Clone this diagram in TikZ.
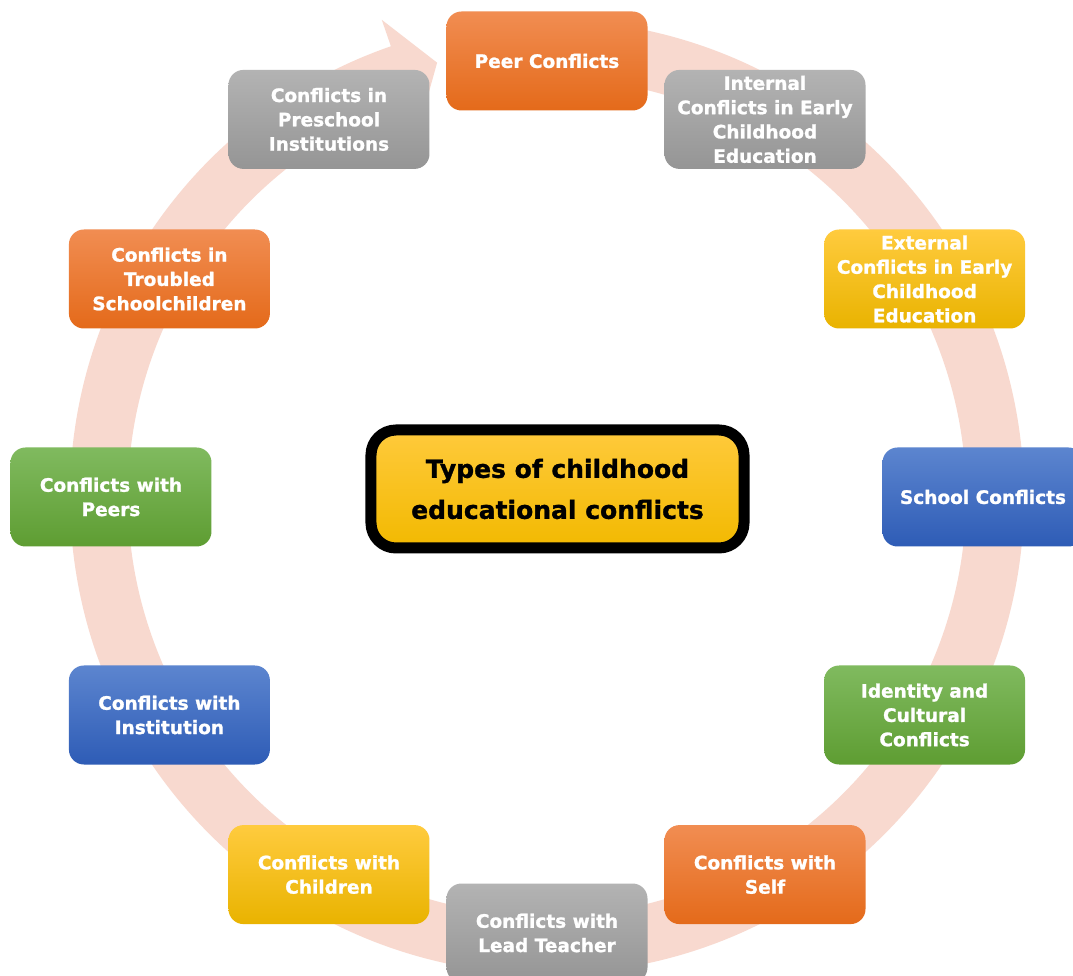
\documentclass[tikz,border=0pt]{standalone}
\usepackage{fontspec}
\setmainfont{DejaVu Sans}[BoldFeatures={FakeBold=1.2}]
\definecolor{ringc}{HTML}{F8D9CF}
\definecolor{oTop}{HTML}{F18D52}
\definecolor{oBot}{HTML}{E46A1A}
\definecolor{gTop}{HTML}{B3B3B3}
\definecolor{gBot}{HTML}{959595}
\definecolor{yTop}{HTML}{FFCB3E}
\definecolor{yBot}{HTML}{E9B300}
\definecolor{bTop}{HTML}{5C85CF}
\definecolor{bBot}{HTML}{2E5CB6}
\definecolor{grTop}{HTML}{80BA5F}
\definecolor{grBot}{HTML}{5E9D32}
\definecolor{cTop}{HTML}{FFCA3C}
\definecolor{cBot}{HTML}{F2B900}
\tikzset{
  cbox/.style={rounded corners=15pt, minimum width=201pt, minimum height=99pt,
    inner sep=0pt, align=center, text=white,
    font=\fontsize{18.5}{24.3}\selectfont\bfseries},
  orangeb/.style={top color=oTop, bottom color=oBot},
  grayb/.style={top color=gTop, bottom color=gBot},
  yellowb/.style={top color=yTop, bottom color=yBot},
  blueb/.style={top color=bTop, bottom color=bBot},
  greenb/.style={top color=grTop, bottom color=grBot},
  titlebox/.style={draw=black, line width=11pt, rounded corners=25pt,
    top color=cTop, bottom color=cBot, minimum width=373pt, minimum height=118pt,
    inner sep=0pt, align=center, text=black,
    font=\fontsize{25}{41}\selectfont\bfseries}
}
\begin{document}
\begin{tikzpicture}[x=1pt,y=1pt]
\useasboundingbox (-547,-479) rectangle (526,497);
\clip (-547,-479) rectangle (526,497);
\fill[white] (-547,-479) rectangle (526,497);
% circular arrow ring
\fill[ringc] (98:477) arc[start angle=98, end angle=-250.9, radius=477]
  -- (-250.9:505) -- (-255.8:448) -- (-250.9:391) -- (-250.9:419)
  arc[start angle=-250.9, end angle=98, radius=419] -- cycle;
% boxes
\node[cbox, orangeb] (peer) at (90:436) {Peer Conflicts};
\node[cbox, grayb] (internal) at (60:436) {Internal\\Conflicts in Early\\Childhood\\Education};
\node[cbox, yellowb] (external) at (30:436) {External\\Conflicts in Early\\Childhood\\Education};
\node[cbox, blueb] (school) at (0:436) {School Conflicts};
\node[cbox, greenb] (identity) at (-30:436) {Identity and\\Cultural\\Conflicts};
\node[cbox, orangeb] (self) at (-60:436) {Conflicts with\\Self};
\node[cbox, grayb] (lead) at (-90:436) {Conflicts with\\Lead Teacher};
\node[cbox, yellowb] (children) at (-120:436) {Conflicts with\\Children};
\node[cbox, blueb] (institution) at (-150:436) {Conflicts with\\Institution};
\node[cbox, greenb] (peers) at (180:436) {Conflicts with\\Peers};
\node[cbox, orangeb] (troubled) at (150:436) {Conflicts in\\Troubled\\Schoolchildren};
\node[cbox, grayb] (preschool) at (120:436) {Conflicts in\\Preschool\\Institutions};
% centre
\node[titlebox] (title) at (10.5,8) {Types of childhood\\educational conflicts};
\end{tikzpicture}
\end{document}
